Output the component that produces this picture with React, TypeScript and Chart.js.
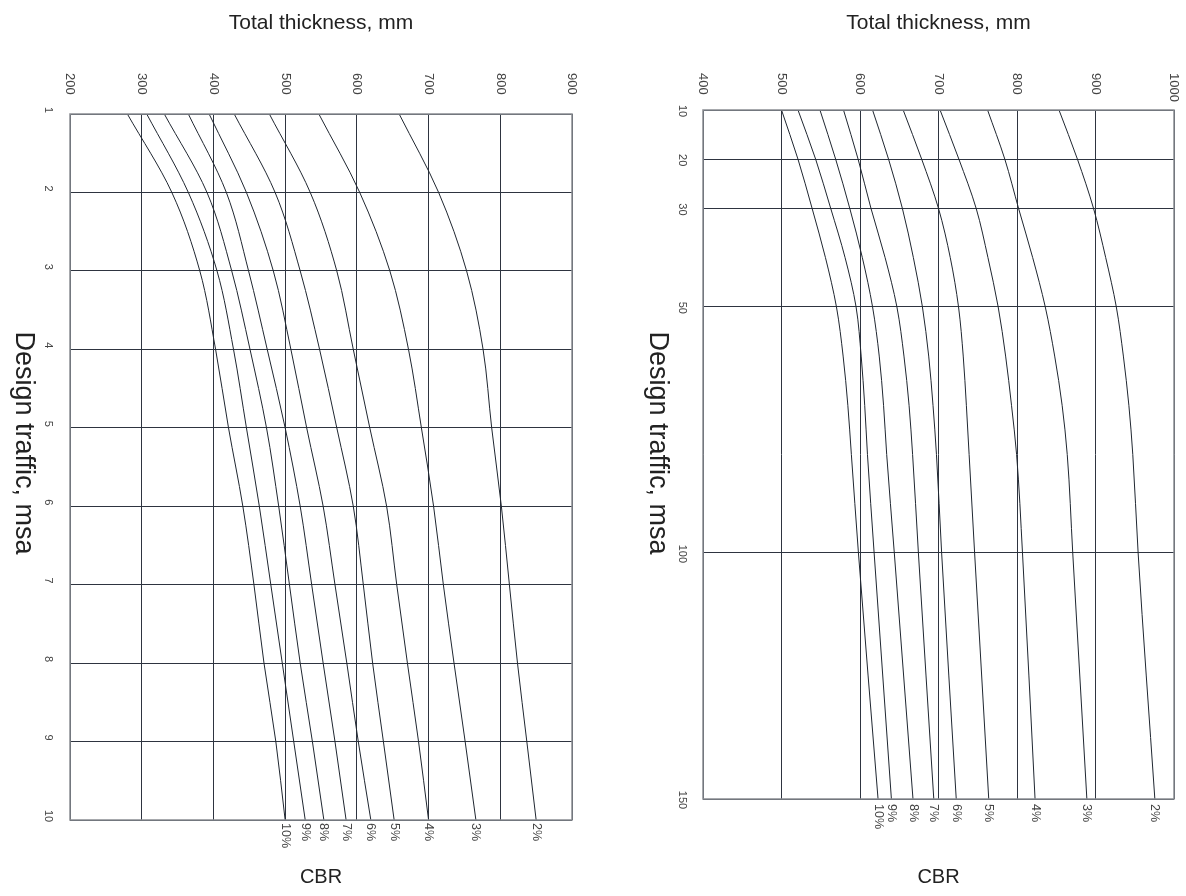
import React, { useEffect, useRef } from 'react';
import { Chart, registerables } from 'chart.js';

Chart.register(...registerables);

const FONT = '"Liberation Sans", Arial, Helvetica, sans-serif';

// ---------- shared text ----------
const thicknessTitle = 'Total thickness, mm';
const trafficTitle = 'Design traffic, msa';
const cbrTitle = 'CBR';
const cbrNames = ['10%', '9%', '8%', '7%', '6%', '5%', '4%', '3%', '2%'];

// ---------- left panel (1–10 msa) ----------
const leftTraffic = [1, 2, 3, 4, 5, 6, 7, 8, 9, 10];
const leftCbr10 = [280, 342, 381, 403, 421, 441, 456.5, 470.5, 487, 500];
const leftCbr9 = [307, 365, 405, 428, 446, 464, 480, 496, 512, 528];
const leftCbr8 = [331.5, 391, 425.5, 451, 474, 491, 506, 521, 538, 554];
const leftCbr7 = [365, 418, 449, 475, 500, 521, 537, 553, 569.5, 585];
const leftCbr6 = [394, 446, 483.5, 508, 530, 553, 569.5, 586, 602, 619.5];
const leftCbr5 = [429, 486, 521, 548, 572, 595, 609, 622, 637, 652];
const leftCbr4 = [478, 535, 572, 595, 618, 641.5, 655.6, 670.5, 686, 700];
const leftCbr3 = [547, 604, 646, 672, 690, 707, 720.6, 735.5, 751, 766];
const leftCbr2 = [659, 714, 753, 776, 788, 801.5, 812.7, 824, 837, 850];
const leftThicknessTicks = [200, 300, 400, 500, 600, 700, 800, 900];
const leftTrafficTicks = [1, 2, 3, 4, 5, 6, 7, 8, 9, 10];

// ---------- right panel (10–150 msa) ----------
const rightTraffic = [10, 20, 30, 40, 50, 60, 70, 80, 100, 150];
const rightCbr10 = [500, 521, 539, 556, 570, 578.5, 584.5, 589, 598, 623];
const rightCbr9 = [521, 543.5, 562.7, 581, 595, 601.5, 606, 609.5, 618, 640];
const rightCbr8 = [549, 569, 587, 603, 616, 624.5, 630, 634, 643.7, 667.5];
const rightCbr7 = [579, 597.6, 614, 632, 647, 656, 662.5, 667, 674.4, 694];
const rightCbr6 = [616, 636.4, 654, 668, 679.5, 687.5, 693, 697.4, 704, 722.6];
const rightCbr5 = [655, 678.6, 700, 715, 725.5, 731.5, 735.5, 739, 746, 764];
const rightCbr4 = [702, 726, 748, 763, 776, 785.5, 793, 799.5, 807, 823];
const rightCbr3 = [762.5, 784.5, 802, 820, 836, 848, 857.5, 864, 871, 889];
const rightCbr2 = [853.5, 877, 897.5, 913, 926.5, 935.5, 942.5, 947.5, 954.3, 975.6];
const rightThicknessTicks = [400, 500, 600, 700, 800, 900, 1000];
const rightTrafficTicks = [10, 20, 30, 50, 100, 150];

type Panel = {
  offsetX: number;
  width: number;
  height: number;
  padding: { left: number; right: number; top: number; bottom: number };
  xMin: number;
  xMax: number;
  yMin: number;
  yMax: number;
  xTicks: number[];
  yTicks: number[];
  traffic: number[];
  series: number[][];
  xTickTop: number;
  yTickX: number;
  yTickShift: number;
  yTitleX: number;
  cbrGap: number;
};

const leftPanel: Panel = {
  offsetX: 0,
  width: 600,
  height: 896,
  padding: { left: 70, right: 28, top: 114, bottom: 76 },
  xMin: 200,
  xMax: 900,
  yMin: 1,
  yMax: 10,
  xTicks: leftThicknessTicks,
  yTicks: leftTrafficTicks,
  traffic: leftTraffic,
  series: [leftCbr10, leftCbr9, leftCbr8, leftCbr7, leftCbr6, leftCbr5, leftCbr4, leftCbr3, leftCbr2],
  xTickTop: 73,
  yTickX: 48,
  yTickShift: -4,
  yTitleX: 23,
  cbrGap: 3,
};

const rightPanel: Panel = {
  offsetX: 600,
  width: 586,
  height: 896,
  padding: { left: 103, right: 12, top: 110, bottom: 97 },
  xMin: 400,
  xMax: 1000,
  yMin: 10,
  yMax: 150,
  xTicks: rightThicknessTicks,
  yTicks: rightTrafficTicks,
  traffic: rightTraffic,
  series: [rightCbr10, rightCbr9, rightCbr8, rightCbr7, rightCbr6, rightCbr5, rightCbr4, rightCbr3, rightCbr2],
  xTickTop: 73,
  yTickX: 82,
  yTickShift: 1,
  yTitleX: 57,
  cbrGap: 5,
};

function drawRotated(ctx: CanvasRenderingContext2D, text: string, x: number, y: number, align: CanvasTextAlign) {
  ctx.save();
  ctx.translate(x, y);
  ctx.rotate(Math.PI / 2);
  ctx.textAlign = align;
  ctx.textBaseline = 'middle';
  ctx.fillText(text, 0, 0);
  ctx.restore();
}

function makeTextPlugin(p: Panel) {
  return {
    id: 'panelText',
    afterDraw(chart: any) {
      const ctx: CanvasRenderingContext2D = chart.ctx;
      const { left, right, top, bottom } = chart.chartArea;
      const xs = chart.scales.x;
      const ys = chart.scales.y;
      ctx.save();
      // frame
      ctx.strokeStyle = '#8a8d92';
      ctx.lineWidth = 1.5;
      ctx.strokeRect(left, top, right - left, bottom - top);

      // tick labels
      ctx.fillStyle = '#444';
      ctx.font = `13px ${FONT}`;
      p.xTicks.forEach((v) => {
        drawRotated(ctx, String(v), xs.getPixelForValue(v), p.xTickTop, 'left');
      });
      ctx.font = `11px ${FONT}`;
      p.yTicks.forEach((v) => {
        drawRotated(ctx, String(v), p.yTickX, ys.getPixelForValue(v) + p.yTickShift, 'center');
      });

      // CBR labels at curve ends
      ctx.font = `12.5px ${FONT}`;
      p.series.forEach((s, i) => {
        const x = xs.getPixelForValue(s[s.length - 1]);
        drawRotated(ctx, cbrNames[i], x, bottom + p.cbrGap, 'left');
      });

      // titles
      ctx.fillStyle = '#222';
      const cx = (left + right) / 2;
      ctx.textAlign = 'center';
      ctx.textBaseline = 'middle';
      ctx.font = `21px ${FONT}`;
      ctx.fillText(thicknessTitle, cx, 23);
      ctx.font = `20px ${FONT}`;
      ctx.fillText(cbrTitle, cx, 877);
      ctx.font = `27px ${FONT}`;
      drawRotated(ctx, trafficTitle, p.yTitleX, 443, 'center');
      ctx.restore();
    },
  };
}

function PanelChart({ p }: { p: Panel }) {
  const ref = useRef<HTMLCanvasElement | null>(null);
  useEffect(() => {
    if (!ref.current) return;
    const datasets = p.series.map((s, i) => ({
      label: cbrNames[i],
      data: p.traffic.map((t, j) => ({ x: s[j], y: t })),
      borderColor: '#1f2630',
      borderWidth: 1,
      pointRadius: 0,
      fill: false,
      cubicInterpolationMode: 'monotone' as const,
    }));
    const gridCfg = { color: '#2e3440', lineWidth: 1, drawTicks: false };
    const chart = new Chart(ref.current, {
      type: 'line',
      data: { datasets },
      options: {
        responsive: false,
        animation: false,
        indexAxis: 'y',
        layout: { padding: p.padding },
        plugins: { legend: { display: false }, tooltip: { enabled: false } },
        scales: {
          x: {
            type: 'linear',
            position: 'top',
            min: p.xMin,
            max: p.xMax,
            grid: gridCfg,
            border: { display: false },
            ticks: { display: false },
            afterBuildTicks: (s: any) => {
              s.ticks = p.xTicks.map((v) => ({ value: v }));
            },
          },
          y: {
            type: 'linear',
            reverse: true,
            min: p.yMin,
            max: p.yMax,
            grid: gridCfg,
            border: { display: false },
            ticks: { display: false },
            afterBuildTicks: (s: any) => {
              s.ticks = p.yTicks.map((v) => ({ value: v }));
            },
          },
        },
      } as any,
      plugins: [makeTextPlugin(p)],
    });
    return () => chart.destroy();
  }, [p]);
  return (
    <canvas
      ref={ref}
      width={p.width}
      height={p.height}
      style={{ position: 'absolute', left: p.offsetX, top: 0, width: p.width, height: p.height }}
    />
  );
}

export default function App() {
  return (
    <div style={{ position: 'absolute', left: 0, top: 0, width: 1186, height: 896, background: '#fff' }}>
      <PanelChart p={leftPanel} />
      <PanelChart p={rightPanel} />
    </div>
  );
}
